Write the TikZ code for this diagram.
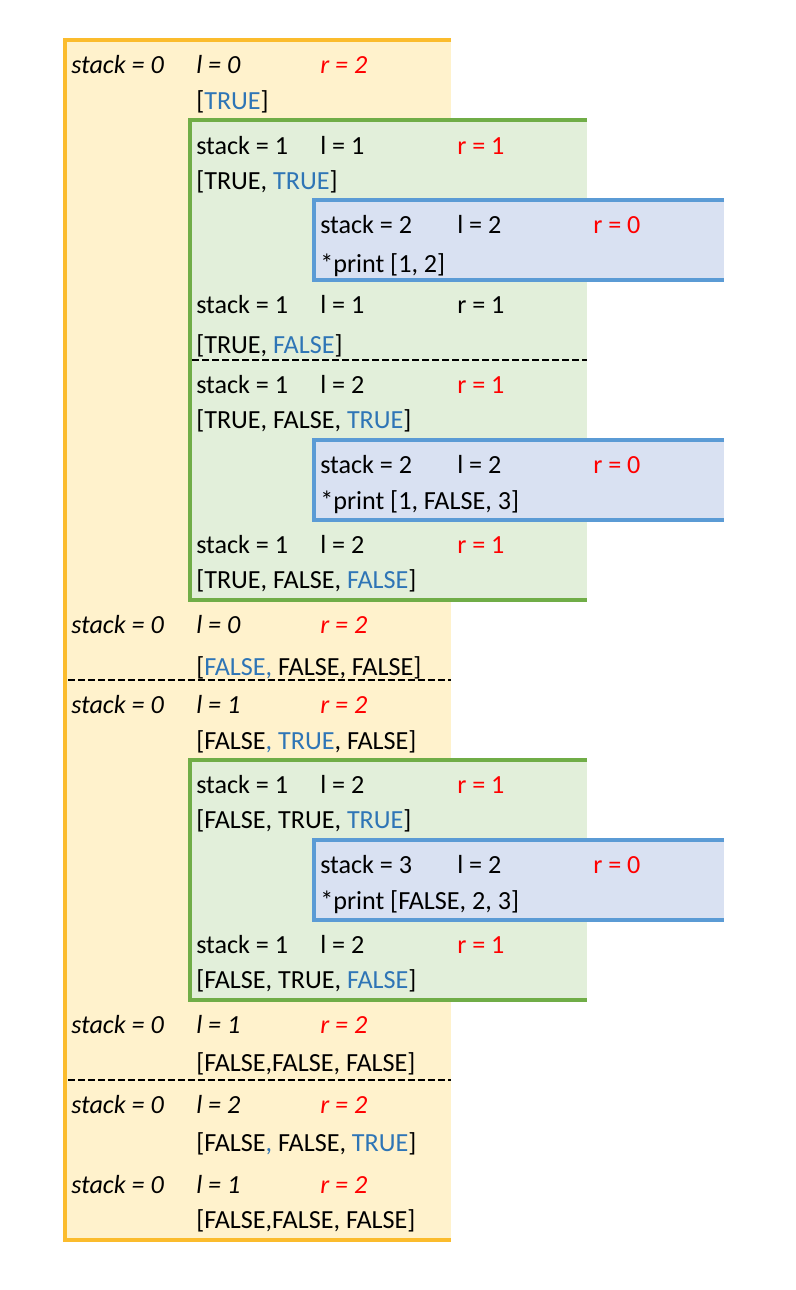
\documentclass[tikz,border=0pt]{standalone}
\usepackage{fontspec}
\setmainfont{Carlito}
\definecolor{orangeline}{HTML}{FBBC2D}
\definecolor{orangefill}{HTML}{FFF2CC}
\definecolor{greenline}{HTML}{70AD47}
\definecolor{greenfill}{HTML}{E2EFDA}
\definecolor{blueline}{HTML}{5B9BD5}
\definecolor{bluefill}{HTML}{D9E1F2}
\definecolor{tblue}{HTML}{2E75B6}
\definecolor{tred}{HTML}{FF0000}
\tikzset{
  txt/.style={anchor=base west, inner sep=0pt, font=\fontsize{19.6}{23}\selectfont},
  itxt/.style={txt, font=\fontsize{19.6}{23}\selectfont\itshape},
  boxline/.style={line width=2.4pt, line join=miter},
  sepline/.style={line width=1.1pt, dash pattern=on 5.25pt off 2.25pt}
}
\begin{document}
\begin{tikzpicture}[x=0.75pt, y=-0.75pt]
				\useasboundingbox (0,0) rectangle (796,1290);
				
				\fill[orangefill] (65,40) rectangle (451,1240);
				\draw[boxline, orangeline] (451,40) -- (65,40) -- (65,1240) -- (451,1240);
				
				\fill[greenfill] (190,120) rectangle (587,600);
				\draw[boxline, greenline] (587,120) -- (190,120) -- (190,600) -- (587,600);
				\fill[greenfill] (190,760) rectangle (587,1000);
				\draw[boxline, greenline] (587,760) -- (190,760) -- (190,1000) -- (587,1000);
				
				\fill[bluefill] (314,200) rectangle (724,280);
				\draw[boxline, blueline] (724,200) -- (314,200) -- (314,280) -- (724,280);
				\fill[bluefill] (314,440) rectangle (724,520);
				\draw[boxline, blueline] (724,440) -- (314,440) -- (314,520) -- (724,520);
				\fill[bluefill] (314,840) rectangle (724,920);
				\draw[boxline, blueline] (724,840) -- (314,840) -- (314,920) -- (724,920);
				
				\draw[sepline] (192,360) -- (587,360);
				\draw[sepline] (68,680) -- (451,680);
				\draw[sepline] (68,1080) -- (451,1080);
				
				\node[itxt] (s1) at (71,73.5) {stack = 0};
				\node[itxt] (l1) at (196,73.5) {l = 0};
				\node[itxt, tred] (r1) at (320,73.5) {r = 2};
				\node[txt] (v2) at (196,109) {[\textcolor{tblue}{TRUE}]};
				
				\node[txt] (s3) at (196,154) {stack = 1};
				\node[txt] (l3) at (320,154) {l = 1};
				\node[txt, tred] (r3) at (457,154) {r = 1};
				\node[txt] (v4) at (196,189.5) {[TRUE, \textcolor{tblue}{TRUE}]};
				
				\node[txt] (s5) at (320,233) {stack = 2};
				\node[txt] (l5) at (457,233) {l = 2};
				\node[txt, tred] (r5) at (593,233) {r = 0};
				\node[txt] (p6) at (320,272) {*print [1, 2]};
				
				\node[txt] (s7) at (196,313) {stack = 1};
				\node[txt] (l7) at (320,313) {l = 1};
				\node[txt] (r7) at (457,313) {r = 1};
				\node[txt] (v8) at (196,353) {[TRUE, \textcolor{tblue}{FALSE}]};
				
				\node[txt] (s9) at (196,393.5) {stack = 1};
				\node[txt] (l9) at (320,393.5) {l = 2};
				\node[txt, tred] (r9) at (457,393.5) {r = 1};
				\node[txt] (v10) at (196,428.5) {[TRUE, FALSE, \textcolor{tblue}{TRUE}]};
				
				\node[txt] (s11) at (320,473.5) {stack = 2};
				\node[txt] (l11) at (457,473.5) {l = 2};
				\node[txt, tred] (r11) at (593,473.5) {r = 0};
				\node[txt] (p12) at (320,509.5) {*print [1, FALSE, 3]};
				
				\node[txt] (s13) at (196,553.5) {stack = 1};
				\node[txt] (l13) at (320,553.5) {l = 2};
				\node[txt, tred] (r13) at (457,553.5) {r = 1};
				\node[txt] (v14) at (196,588.5) {[TRUE, FALSE, \textcolor{tblue}{FALSE}]};
				
				\node[itxt] (s15) at (71,633.5) {stack = 0};
				\node[itxt] (l15) at (196,633.5) {l = 0};
				\node[itxt, tred] (r15) at (320,633.5) {r = 2};
				\node[txt] (v16) at (196,675) {[\textcolor{tblue}{FALSE,} FALSE, FALSE]};
				
				\node[itxt] (s17) at (71,713.5) {stack = 0};
				\node[itxt] (l17) at (196,713.5) {l = 1};
				\node[itxt, tred] (r17) at (320,713.5) {r = 2};
				\node[txt] (v18) at (196,749) {[FALSE\textcolor{tblue}{, TRUE}, FALSE]};
				
				\node[txt] (s19) at (196,793.5) {stack = 1};
				\node[txt] (l19) at (320,793.5) {l = 2};
				\node[txt, tred] (r19) at (457,793.5) {r = 1};
				\node[txt] (v20) at (196,828.5) {[FALSE, TRUE, \textcolor{tblue}{TRUE}]};
				
				\node[txt] (s21) at (320,873.5) {stack = 3};
				\node[txt] (l21) at (457,873.5) {l = 2};
				\node[txt, tred] (r21) at (593,873.5) {r = 0};
				\node[txt] (p22) at (320,909.5) {*print [FALSE, 2, 3]};
				
				\node[txt] (s23) at (196,953.5) {stack = 1};
				\node[txt] (l23) at (320,953.5) {l = 2};
				\node[txt, tred] (r23) at (457,953.5) {r = 1};
				\node[txt] (v24) at (196,988.5) {[FALSE, TRUE, \textcolor{tblue}{FALSE}]};
				
				\node[itxt] (s25) at (71,1033.5) {stack = 0};
				\node[itxt] (l25) at (196,1033.5) {l = 1};
				\node[itxt, tred] (r25) at (320,1033.5) {r = 2};
				\node[txt] (v26) at (196,1071.5) {[FALSE,FALSE, FALSE]};
				
				\node[itxt] (s27) at (71,1113.5) {stack = 0};
				\node[itxt] (l27) at (196,1113.5) {l = 2};
				\node[itxt, tred] (r27) at (320,1113.5) {r = 2};
				\node[txt] (v28) at (196,1151.5) {[FALSE\textcolor{tblue}{,} FALSE, \textcolor{tblue}{TRUE}]};
				
				\node[itxt] (s29) at (71,1193.5) {stack = 0};
				\node[itxt] (l29) at (196,1193.5) {l = 1};
				\node[itxt, tred] (r29) at (320,1193.5) {r = 2};
				\node[txt] (v30) at (196,1228.5) {[FALSE,FALSE, FALSE]};
			\end{tikzpicture}
\end{document}
